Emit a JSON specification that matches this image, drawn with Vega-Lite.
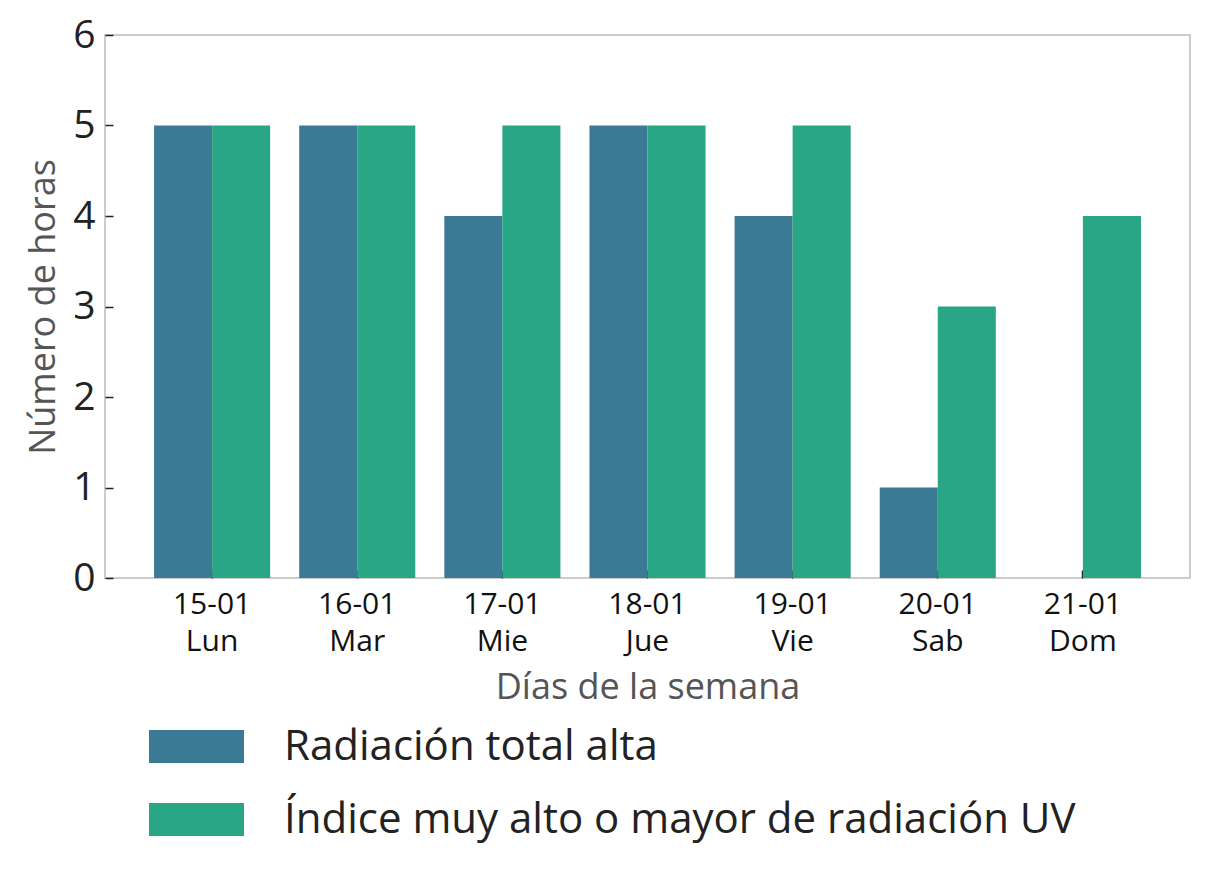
{
  "$schema": "https://vega.github.io/schema/vega-lite/v6.json",
  "autosize": {"type": "none"},
  "width": 1085,
  "height": 543,
  "padding": {"left": 105, "top": 35, "right": 19, "bottom": 308},
  "background": "white",
  "config": {
    "font": "Open Sans",
    "view": {"stroke": "#cccccc", "strokeWidth": 2}
  },
  "data": {
    "values": [
      {"dia": "15-01|Lun", "serie": "Radiación total alta", "horas": 5},
      {"dia": "15-01|Lun", "serie": "Índice muy alto o mayor de radiación UV", "horas": 5},
      {"dia": "16-01|Mar", "serie": "Radiación total alta", "horas": 5},
      {"dia": "16-01|Mar", "serie": "Índice muy alto o mayor de radiación UV", "horas": 5},
      {"dia": "17-01|Mie", "serie": "Radiación total alta", "horas": 4},
      {"dia": "17-01|Mie", "serie": "Índice muy alto o mayor de radiación UV", "horas": 5},
      {"dia": "18-01|Jue", "serie": "Radiación total alta", "horas": 5},
      {"dia": "18-01|Jue", "serie": "Índice muy alto o mayor de radiación UV", "horas": 5},
      {"dia": "19-01|Vie", "serie": "Radiación total alta", "horas": 4},
      {"dia": "19-01|Vie", "serie": "Índice muy alto o mayor de radiación UV", "horas": 5},
      {"dia": "20-01|Sab", "serie": "Radiación total alta", "horas": 1},
      {"dia": "20-01|Sab", "serie": "Índice muy alto o mayor de radiación UV", "horas": 3},
      {"dia": "21-01|Dom", "serie": "Radiación total alta", "horas": 0},
      {"dia": "21-01|Dom", "serie": "Índice muy alto o mayor de radiación UV", "horas": 4}
    ]
  },
  "mark": {"type": "bar"},
  "encoding": {
    "x": {
      "field": "dia",
      "type": "nominal",
      "sort": null,
      "scale": {"paddingInner": 0.2, "paddingOuter": 0.338},
      "axis": {
        "title": "Días de la semana",
        "titleFontSize": 36,
        "titleFontWeight": "normal",
        "titleColor": "#555555",
        "titlePadding": 14,
        "labelExpr": "split(datum.value, '|')",
        "labelAngle": 0,
        "labelFontSize": 30,
        "labelColor": "#111111",
        "labelLineHeight": 37,
        "labelPadding": 19,
        "tickSize": -8,
        "tickColor": "#222222",
        "tickWidth": 1.5,
        "domain": false,
        "grid": false
      }
    },
    "xOffset": {
      "field": "serie",
      "type": "nominal",
      "sort": ["Radiación total alta", "Índice muy alto o mayor de radiación UV"],
      "scale": {"paddingInner": 0, "paddingOuter": 0}
    },
    "y": {
      "field": "horas",
      "type": "quantitative",
      "scale": {"domain": [0, 6], "nice": false},
      "axis": {
        "title": "Número de horas",
        "titleFontSize": 36,
        "titleFontWeight": "normal",
        "titleColor": "#555555",
        "titlePadding": 10,
        "values": [0, 1, 2, 3, 4, 5, 6],
        "labelFontSize": 39,
        "labelColor": "#222222",
        "labelPadding": 18,
        "tickSize": -8,
        "tickColor": "#222222",
        "tickWidth": 1.5,
        "domain": false,
        "grid": false
      }
    },
    "color": {
      "field": "serie",
      "type": "nominal",
      "sort": ["Radiación total alta", "Índice muy alto o mayor de radiación UV"],
      "scale": {
        "domain": ["Radiación total alta", "Índice muy alto o mayor de radiación UV"],
        "range": ["#3a7a94", "#29a685"]
      },
      "legend": {
        "title": null,
        "orient": "none",
        "legendX": 44,
        "legendY": 664,
        "direction": "vertical",
        "symbolType": "M-1,-0.347H1V0.347H-1Z",
        "symbolSize": 9025,
        "symbolStrokeWidth": 0,
        "symbolOpacity": 1,
        "labelFontSize": 42,
        "labelColor": "#222222",
        "labelOffset": 40,
        "labelLimit": 1000,
        "rowPadding": 4
      }
    }
  }
}
